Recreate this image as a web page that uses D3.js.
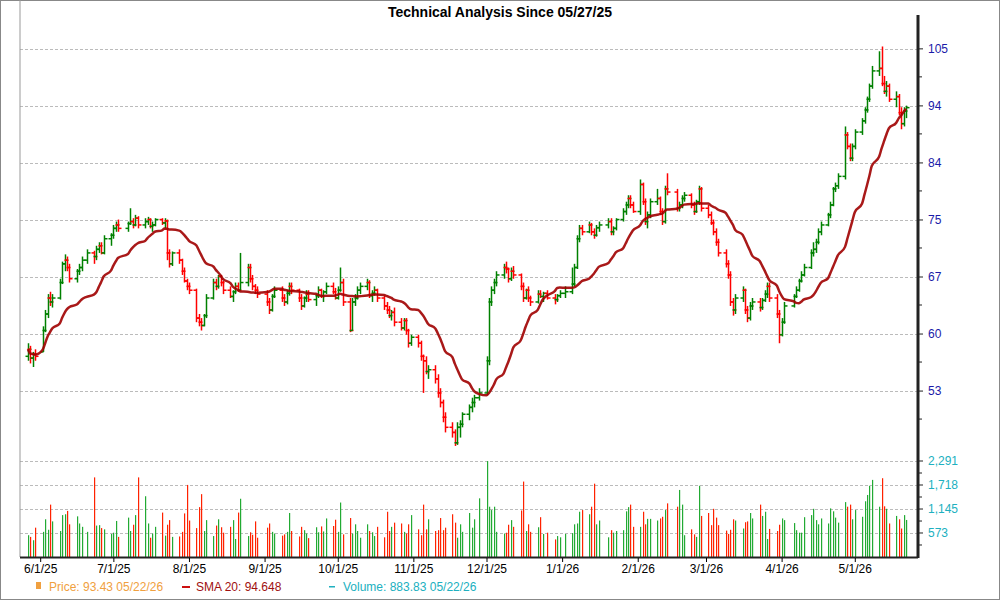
<!DOCTYPE html>
<html>
<head>
<meta charset="utf-8">
<script src="https://cdn.jsdelivr.net/npm/d3@7"></script>
<style>
  body { margin: 0; background: #fff; }
  svg { font-family: Arial, "Liberation Sans", sans-serif; }
</style>
</head>
<body>
<div id="chart"></div>
<script>
// trading-day rows: open high low close volume
var bars = [
  // May 25
  "57 58.5 56.5 57.8 520","57.8 58.2 56.2 56.8 480","56.8 57.5 55.8 57.2 400","57.2 57.8 56.5 57 700",
  // Jun 25
  "57.5 60.5 57.5 60 600","60 62.5 59.8 62 900","62 64.5 61.5 64 650","64 64.8 63 63.5 1250",
  "63.5 64.5 62.8 64 850","64 66.5 63.8 66 620","66 68.8 65.8 68.5 1000","68.5 69.8 67.5 69 1020",
  "69 69.5 67.5 68 1100","68 68.5 66 66.5 780","66.5 67.8 66 67.5 970","67.5 68.5 67 68 800",
  "68 69.5 67.5 69 720","69 70.5 68.5 70 600","70 70.3 68.5 69.5 1900","69.5 71 69 70.5 750",
  "70.5 71.5 70 71 760","71 71.5 69.8 70 690","70 72.5 69.8 72 660","72 72.8 71 72.5 550",
  // Jul 25
  "72.5 74 72 73.5 580","73.5 74.5 73 74 860","74 74.8 73 73.5 480","73.5 74.5 73 74.2 940",
  "74.2 76.5 74 74.5 620","74.5 75 73.5 74 770","74 75.5 73.8 75 1000","75 75.3 73.5 74 1900",
  "74 75 73.5 74.5 1450","74.5 75.2 74 74.8 800","74.8 75 73.5 73.8 460","73.8 74.5 73 74 560",
  "74 75 73.8 74.8 720","74.8 75 74 74.3 1060","74.3 75 73.5 74.6 510","74.6 74.8 69 70 770",
  "70 70.5 68 68.5 880","68.5 70.2 68.2 70 480","70 70.5 68.5 69 490","69 69.2 67 67.5 600",
  "67.5 68 66 66.2 1040","66.2 66.5 65 65.5 1720",
  // Aug 25
  "65.5 66 64.5 65 870","65 65.2 61 61.5 690","61.5 62 60.5 61 1190","61 61.5 60 60.6 1500",
  "60.6 62 60.5 61.8 620","61.8 64.5 61.5 64 880","64 66.5 63.8 66 500","66 66.5 65 65.5 750",
  "65.5 67 65.2 66.8 900","66.8 67 65.5 66 710","66 66.2 64.5 65 580","65 65.5 64 64.2 720",
  "64.2 65 63.5 64.8 880","64.8 66 64.5 65.5 430","65.5 66 64.8 65 1060","65 70 65 66 1390",
  "66 68.5 65.5 68 500","68 68.5 66 66.5 590","66.5 67 65 65.5 530","65.5 65.8 64.5 65 850",
  "65 65.5 64 64.5 460",
  // Sep 25
  "64.5 65 63 63.5 700","63.5 64 62 62.5 800","62.5 64.5 62.3 64.2 600","64.2 65.5 64 65 560",
  "65 65.5 63.5 64 510","64 64.5 63 63.5 540","63.5 65 63.2 64.6 600","64.6 66 64.3 65.5 1050",
  "65.5 66 64.5 65 620","65 65.2 63.5 64 490","64 64.5 62.5 63 720","63 64.2 62.8 64 640",
  "64 65 63.5 64.5 560","64.5 65 63.5 63.8 450","63.8 64.5 63 64.3 710","64.3 65.5 64 65 590",
  "65 65.2 64 64.3 730","64.3 65 63.5 64.8 610","64.8 66 64.5 65.5 920","65.5 66 64.5 64.8 740",
  "64.8 65.3 63.8 64 890",
  // Oct 25
  "64 65.5 63.8 65 600","65 68 64.8 66 1300","66 66.5 63 63.5 540","63.5 64 59.8 60 930",
  "60 64 60 63.5 560","63.5 64.5 63 64 780","64 65.5 63.8 65 620","65 66 64.5 65.5 460",
  "65.5 66.5 65 66 780","66 66.3 64 64.3 620","64.3 65 63.5 64.6 590","64.6 65.5 64.3 65 500",
  "65 65.2 63.5 64 720","64 64.3 62.5 63 470","63 63.5 62 62.5 1080","62.5 63 61.5 61.8 620",
  "61.8 62.5 61.2 62.2 720","62.2 62.8 60.5 61 820","61 61.5 60 60.3 800","60.3 61.5 60 61.2 600",
  "61.2 61.5 59.5 60 560","60 60.2 58 58.5 780","58.5 59.5 58.2 59.2 1000",
  // Nov 25
  "59.2 59.5 58 58.5 660","58.5 58.8 56.5 57 520","57 57.2 53 56.5 1250","56.5 57 55 55.3 660",
  "55.3 56 54.5 55.5 900","55.5 56 54 54.5 620","54.5 55 52.5 53 640","53 53.5 51.5 52 930",
  "52 52.3 50 50.5 640","50.5 51 49 49.5 700","49.5 50 48.5 49 1020","49 49.3 47.7 48 820",
  "48 50 47.8 49.5 460","49.5 50.2 48.5 49.8 780","49.8 51 49.5 50.8 600","50.8 51.8 50.2 51.5 1050",
  "51.5 52.5 51 52 700","52 52.8 51.5 52.5 900","52.5 53.5 52.2 53 1400",
  // Dec 25
  "53 57 52.8 56.5 2290","56.5 64 56 63.5 1200","63.5 65.5 63 65 1120","65 66.5 64.5 66 1200",
  "66 67.5 65.5 67 600","67 68.5 66.5 68 560","68 68.8 67.2 67.8 580","67.8 68 66 66.5 770",
  "66.5 68 66.2 67.5 880","67.5 68.2 66.5 67 720","67 67.2 65 65.5 1110","65.5 66 63.5 64 1800",
  "64 65.2 63.8 65 620","65 65.5 63.5 64 780","64 64.3 63 63.5 600","63.5 65 63.3 64.5 710",
  "64.5 65 64 64.2 950","64.2 64.8 63.5 64.6 550","64.6 65 63.8 64 580","64 64.5 63.2 63.8 420",
  "63.8 64.5 63.5 64.3 500","64.3 65 64 64.6 470",
  // Jan 26
  "64.6 65.5 64 64.8 550","64.8 68 64.5 65.8 570","65.8 68.5 65.5 68 780","68 72.5 67.8 72 800",
  "72 74 71.5 73.5 1080","73.5 74 72.5 73 1120","73 74.5 72.8 74 1020","74 74.3 72.5 73 1200",
  "73 73.5 72 72.5 1750","72.5 74 72.3 73.6 780","73.6 74.5 73 74 870","74 75 73.5 74.5 470",
  "74.5 75 72.5 73 640","73 73.8 72.5 73.5 580","73.5 75 73.2 74.8 620","74.8 76.5 74.5 76 640",
  "76 77.5 75.5 77 1090","77 78.5 76.5 78 1190","78 78.5 76.5 77 1250","77 77.5 75.8 76 720",
  // Feb 26
  "76 81 75.5 80.2 720","80.2 80.5 77 77.5 1080","77.5 78 74 74.5 780","74.5 76 73.5 75.5 910",
  "75.5 78 75 77.5 910","77.5 79.5 77 78 870","78 78.3 75.5 76 920","76 76.5 74 74.5 960",
  "74.5 80 74.2 79.5 1120","79.5 82 78.5 79 1280","79 79.5 76 76.5 1200","76.5 77.5 76 77 1600",
  "77 78.5 76.5 78 1250","78 79 77.5 78.5 520","78.5 78.8 76.5 77 660","77 77.5 75.5 76 540",
  "76 77.8 75.8 77.5 480","77.5 80 77 79.5 1700","79.5 79.8 76 76.5 980",
  // Mar 26
  "76.5 77 75 75.5 1050","75.5 76 74 74.3 760","74.3 74.8 72.5 73 1150","73 73.5 71 71.5 940",
  "71.5 72 69.5 70 760","70 70.5 68 68.5 630","68.5 69 66.5 67 550","67 67.5 63 63.5 650",
  "63.5 64 61.8 62.5 900","62.5 64.5 62 64 870","64 65.5 63.5 65 680","65 65.2 62 62.5 830",
  "62.5 63 61 61.5 850","61.5 63.5 61.2 63 1050","63 64 62.5 63.5 920","63.5 64 62.3 62.8 1250",
  "62.8 64 62.5 63.7 980","63.7 65 63.5 64.5 1080","64.5 66 64 65.5 430","65.5 66 63.5 64 670",
  "64 64.5 61.5 62 620","62 62.5 58.5 59.5 770",
  // Apr 26
  "59.5 61.5 59.3 61 920","61 63.5 60.8 63 880","63 64.5 62.8 64.2 810","64.2 65.5 64 65 640",
  "65 66.5 64.8 66.2 580","66.2 67.5 66 67 580","67 68.5 66.8 68 950","68 70.5 67.8 70 1000",
  "70 71.5 69.5 70.5 1150","70.5 72 70 71.5 880","71.5 73.5 71.2 73 780","73 74.5 72.5 74 920",
  "74 75.8 73.8 75.5 800","75.5 77.5 75 77 1160","77 79.8 76.8 79.5 1090","79.5 80.5 79 80 940",
  "80 82 79.5 81.5 820","81.5 90 81 88.5 1310","88.5 89 86 86.5 1200","86.5 87 84 84.5 1250",
  "84.5 87 84 86.5 900",
  // May 26
  "86.5 89.5 86 89 1120","89 91.5 88.5 91 960","91 93.5 90.5 93 1330","93 95.5 92.5 95 1480",
  "95 98 94.5 97.5 1700","97.5 101.5 97 100.5 1840","100.5 104.5 99.5 101 1200","101 105.5 97.5 98 1880",
  "98 99.5 96 96.5 1210","96.5 98.5 95.5 97.5 1150","97.5 98 94.5 95 800","95 96.5 93.5 95.5 980",
  "95.5 96 92 92.5 900","92.5 93.5 89.5 90.5 680","90.5 93.5 90 92.8 1000","92.8 93.8 91.5 93.43 883.83"
];

var holidays = ["2025-06-19","2025-07-04","2025-09-01","2025-11-27","2025-12-25",
  "2026-01-01","2026-01-19","2026-02-16","2026-04-03"];
var priceTicks = [105, 94, 84, 75, 67, 60, 53];
var volTicks = [573, 1145, 1718, 2291];
var monthTicks = ["2025-06-01","2025-07-01","2025-08-01","2025-09-01","2025-10-01","2025-11-01",
  "2025-12-01","2026-01-01","2026-02-01","2026-03-01","2026-04-01","2026-05-01"];

var parse = d3.timeParse("%Y-%m-%d");
var fmt = d3.timeFormat("%Y-%m-%d");

// trading calendar
var days = [];
var dd = parse("2025-05-27");
while (days.length < bars.length) {
  var wd = dd.getDay();
  if (wd != 0 && wd != 6 && holidays.indexOf(fmt(dd)) < 0) days.push(new Date(dd));
  dd = d3.timeDay.offset(dd, 1);
}

var data = bars.map(function(s, i) {
  var p = s.split(" ").map(Number);
  return {date: days[i], o: p[0], h: p[1], l: p[2], c: p[3], v: p[4]};
});
data.forEach(function(d, i) {
  var w = data.slice(Math.max(0, i - 19), i + 1);
  d.sma = d3.mean(w, function(e) { return e.c; });
});

var W = 1000, H = 600;
var svg = d3.select("#chart").append("svg").attr("width", W).attr("height", H);

svg.append("rect").attr("x", 0.5).attr("y", 0.5).attr("width", W - 1).attr("height", H - 1)
  .attr("fill", "#fff").attr("stroke", "#888");

svg.append("text").attr("x", 500).attr("y", 17).attr("text-anchor", "middle")
  .style("font-size", "14px").style("font-weight", "bold").text("Technical Analysis Since 05/27/25");

var x = d3.scaleTime().domain([parse("2025-05-27"), parse("2026-05-22")]).range([28, 906]);
var y = d3.scaleLog().domain([46.85, 111.2]).range([455, 20]);
var yv = d3.scaleLinear().domain([0, 2291]).range([557, 461]);

var left = 20, right = 918;
function tickY(i) { return y(105 / Math.pow(1.12, i)); }

// grid
svg.append("g").selectAll("line").data(priceTicks).enter().append("line")
  .attr("x1", left).attr("x2", right)
  .attr("y1", function(d, i) { return Math.round(tickY(i)) + 0.5; })
  .attr("y2", function(d, i) { return Math.round(tickY(i)) + 0.5; })
  .attr("stroke", "#bbb").attr("stroke-dasharray", "3,2");
svg.append("g").selectAll("line").data(volTicks).enter().append("line")
  .attr("x1", left).attr("x2", right).attr("y1", function(d) { return Math.round(yv(d)) + 0.5; })
  .attr("y2", function(d) { return Math.round(yv(d)) + 0.5; })
  .attr("stroke", "#bbb").attr("stroke-dasharray", "3,2");

// volume
svg.append("g").selectAll("rect").data(data).enter().append("rect")
  .attr("x", function(d) { return Math.round(x(d.date)); }).attr("width", 1.2)
  .attr("y", function(d) { return yv(d.v); }).attr("height", function(d) { return 557 - yv(d.v); })
  .attr("fill", function(d) { return d.c >= d.o ? "#22aa33" : "#ff2200"; });

// OHLC bars
var g = svg.append("g").attr("stroke-width", 1.5);
data.forEach(function(d) {
  var col = d.c >= d.o ? "#008000" : "#ff0000";
  var cx = Math.round(x(d.date)) + 0.5;
  g.append("line").attr("x1", cx).attr("x2", cx).attr("y1", y(d.h)).attr("y2", y(d.l)).attr("stroke", col);
  g.append("line").attr("x1", cx - 3).attr("x2", cx).attr("y1", y(d.o)).attr("y2", y(d.o)).attr("stroke", col);
  g.append("line").attr("x1", cx).attr("x2", cx + 3).attr("y1", y(d.c)).attr("y2", y(d.c)).attr("stroke", col);
});

// SMA 20
svg.append("path").datum(data)
  .attr("d", d3.line().curve(d3.curveMonotoneX).x(function(d) { return x(d.date); }).y(function(d) { return y(d.sma); }))
  .attr("fill", "none").attr("stroke", "#a00000").attr("stroke-width", 2.5).attr("stroke-opacity", 0.9);

// axes frame
svg.append("line").attr("x1", left).attr("x2", left).attr("y1", 0).attr("y2", 557).attr("stroke", "#999");
svg.append("line").attr("x1", right).attr("x2", right).attr("y1", 15).attr("y2", 558).attr("stroke", "#222").attr("stroke-width", 3);
svg.append("line").attr("x1", left).attr("x2", right).attr("y1", 557.5).attr("y2", 557.5).attr("stroke", "#222").attr("stroke-width", 2);

var xAxis = svg.append("g").attr("transform", "translate(0,558)")
  .call(d3.axisBottom(x).tickValues(monthTicks.map(parse)).tickFormat(d3.timeFormat("%-m/%-d/%y")).tickSize(4));
xAxis.select(".domain").remove();
xAxis.selectAll("text").style("font-size", "12px").attr("fill", "#000").attr("y", 6).attr("dy", "0.75em");

var pAxis = svg.append("g").attr("transform", "translate(" + right + ",0)");
priceTicks.forEach(function(t, i) {
  var yy = tickY(i);
  pAxis.append("line").attr("x1", 0).attr("x2", 5).attr("y1", yy).attr("y2", yy).attr("stroke", "#222");
  pAxis.append("line").attr("x1", 0).attr("x2", 4).attr("y1", yy + 28).attr("y2", yy + 28).attr("stroke", "#222");
  pAxis.append("text").attr("x", 10).attr("y", yy + 4).style("font-size", "12px").attr("fill", "#1a1aa8").text(t);
});
volTicks.forEach(function(t) {
  var yy = yv(t);
  pAxis.append("line").attr("x1", 0).attr("x2", 5).attr("y1", yy).attr("y2", yy).attr("stroke", "#222");
  pAxis.append("line").attr("x1", 0).attr("x2", 4).attr("y1", yy + 12).attr("y2", yy + 12).attr("stroke", "#222");
  pAxis.append("text").attr("x", 10).attr("y", yy + 4).style("font-size", "12px").attr("fill", "#20b0c0").text(d3.format(",")(t));
});

// legend
var last = data[data.length - 1];
var lg = svg.append("g").style("font-size", "12px").style("white-space", "pre");
lg.append("rect").attr("x", 36).attr("y", 582).attr("width", 5).attr("height", 7).attr("fill", "#f0a040");
lg.append("text").attr("x", 49).attr("y", 591).attr("fill", "#f0a040").text("Price: " + last.c + "  05/22/26");
lg.append("rect").attr("x", 182).attr("y", 586).attr("width", 8).attr("height", 2).attr("fill", "#cc1010");
lg.append("text").attr("x", 196).attr("y", 591).attr("fill", "#a01010").text("SMA 20: 94.648");
lg.append("rect").attr("x", 329).attr("y", 586).attr("width", 6).attr("height", 1.5).attr("fill", "#20b0c0");
lg.append("text").attr("x", 343).attr("y", 591).attr("fill", "#20b0c0").text("Volume: " + last.v + "  05/22/26");
</script>
</body>
</html>
